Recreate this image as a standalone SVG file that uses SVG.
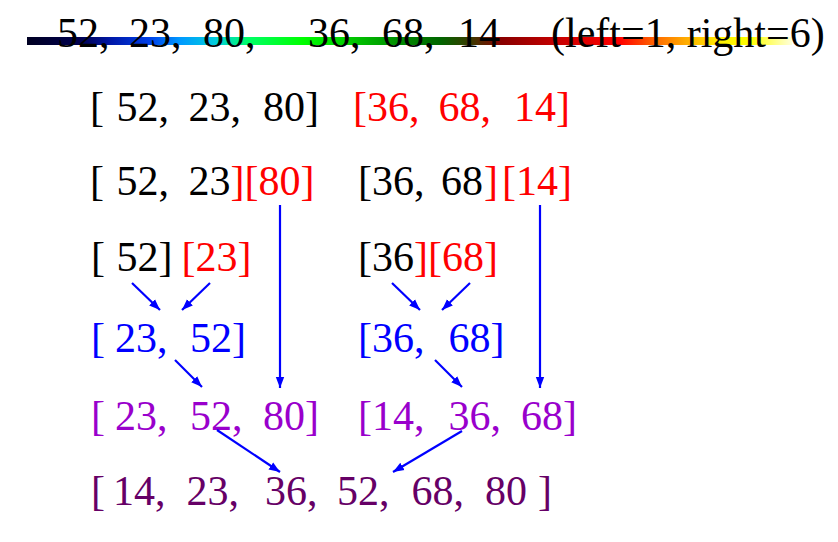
<svg xmlns="http://www.w3.org/2000/svg" width="838" height="542" viewBox="0 0 838 542">
<defs>
<linearGradient id="rainbow" gradientUnits="userSpaceOnUse" x1="27" y1="0" x2="792" y2="0">
<stop offset="0" stop-color="#000022"/>
<stop offset="0.07" stop-color="#000050"/>
<stop offset="0.11" stop-color="#0018a8"/>
<stop offset="0.16" stop-color="#0040e8"/>
<stop offset="0.2" stop-color="#0099ff"/>
<stop offset="0.246" stop-color="#00ccdd"/>
<stop offset="0.29" stop-color="#00ff66"/>
<stop offset="0.36" stop-color="#00ff00"/>
<stop offset="0.42" stop-color="#00cc00"/>
<stop offset="0.49" stop-color="#008800"/>
<stop offset="0.54" stop-color="#006600"/>
<stop offset="0.585" stop-color="#443300"/>
<stop offset="0.62" stop-color="#880000"/>
<stop offset="0.7" stop-color="#cc0000"/>
<stop offset="0.775" stop-color="#ff0000"/>
<stop offset="0.82" stop-color="#ff6600"/>
<stop offset="0.86" stop-color="#ffaa00"/>
<stop offset="0.905" stop-color="#ffee00"/>
<stop offset="0.945" stop-color="#ffff00"/>
<stop offset="1" stop-color="#ffffdd"/>
</linearGradient>
<marker id="ah" markerUnits="userSpaceOnUse" markerWidth="12" markerHeight="10" refX="11" refY="5" orient="auto">
<path d="M0,0.8 L11,5 L0,9.2 Z" fill="#0000ff"/>
</marker>
<style>
text{font-family:"Liberation Serif","Times New Roman",serif;font-size:42px;fill:#000000}
.r{fill:#ff0000}
.b{fill:#0000ff}
.p{fill:#9900cc}
.d{fill:#660066}
.c line{stroke:#0000ff;stroke-width:2.2;marker-end:url(#ah)}
</style>
</defs>
<rect width="838" height="542" fill="#ffffff"/>
<rect x="27" y="37" width="765" height="8" fill="url(#rainbow)"/>
<g id="header">
<text y="47"><tspan x="57">52,</tspan><tspan x="129">23,</tspan><tspan x="203">80,</tspan><tspan x="308">36,</tspan><tspan x="382">68,</tspan><tspan x="458">14</tspan><tspan x="551">(left=1, right=6)</tspan></text>
</g>
<g id="r1-left"><text y="121"><tspan x="90">[</tspan><tspan x="116.5">52,</tspan><tspan x="188.5">23,</tspan><tspan x="263">80]</tspan></text></g>
<g id="r1-right"><text class="r" y="121"><tspan x="353">[36,</tspan><tspan x="438.5">68,</tspan><tspan x="514">14]</tspan></text></g>
<g id="r2-a"><text y="195"><tspan x="90">[</tspan><tspan x="116.5">52,</tspan><tspan x="188.5">23</tspan></text></g>
<g id="r2-b"><text class="r" x="230.5" y="195">][80]</text></g>
<g id="r2-c"><text y="195"><tspan x="358">[36,</tspan><tspan x="441">68</tspan></text></g>
<g id="r2-d"><text class="r" y="195"><tspan x="484">]</tspan><tspan x="502">[14]</tspan></text></g>
<g id="r3-a"><text y="271"><tspan x="91">[</tspan><tspan x="116.5">52]</tspan></text></g>
<g id="r3-b"><text class="r" x="181.5" y="271">[23]</text></g>
<g id="r3-c"><text x="358" y="271">[36</text></g>
<g id="r3-d"><text class="r" x="414" y="271">][68]</text></g>
<g id="r4-left"><text class="b" y="352"><tspan x="91">[</tspan><tspan x="115">23,</tspan><tspan x="190">52]</tspan></text></g>
<g id="r4-right"><text class="b" y="352"><tspan x="358">[36,</tspan><tspan x="448.5">68]</tspan></text></g>
<g id="r5-left"><text class="p" y="430"><tspan x="91">[</tspan><tspan x="115">23,</tspan><tspan x="190">52,</tspan><tspan x="263">80]</tspan></text></g>
<g id="r5-right"><text class="p" y="430"><tspan x="358">[14,</tspan><tspan x="448.5">36,</tspan><tspan x="521">68]</tspan></text></g>
<g id="r6"><text class="d" y="505"><tspan x="91">[</tspan><tspan x="113">14,</tspan><tspan x="186.5">23,</tspan><tspan x="265">36,</tspan><tspan x="337">52,</tspan><tspan x="411.5">68,</tspan><tspan x="485">80</tspan><tspan x="538">]</tspan></text></g>
<g id="connectors" class="c">
<line x1="132" y1="283" x2="160" y2="310"/>
<line x1="210" y1="283" x2="182" y2="310"/>
<line x1="392" y1="283" x2="420" y2="310"/>
<line x1="470" y1="283" x2="442" y2="310"/>
<line x1="175" y1="360" x2="202" y2="387"/>
<line x1="435" y1="360" x2="462" y2="387"/>
<line x1="280" y1="205" x2="280" y2="388"/>
<line x1="540" y1="205" x2="540" y2="388"/>
<line x1="217" y1="430" x2="280" y2="472"/>
<line x1="462" y1="431" x2="393" y2="472"/>
</g>
</svg>
